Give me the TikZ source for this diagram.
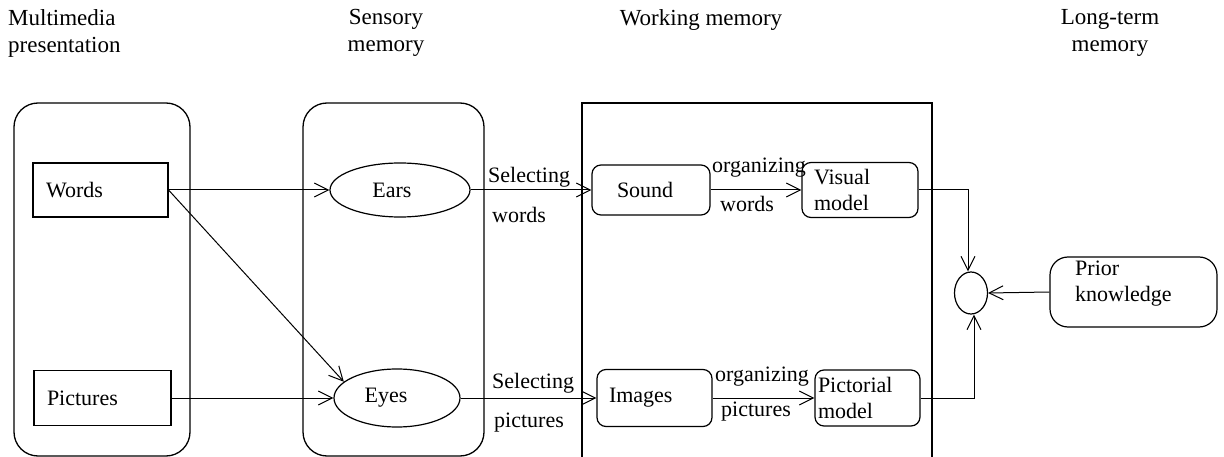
\documentclass[tikz,border=0pt]{standalone}
\usepackage{fontspec}
\setmainfont{Liberation Serif}
\usetikzlibrary{shapes.geometric,arrows.meta}
\begin{document}
\begin{tikzpicture}[x=1pt,y=-1pt,
  every node/.style={font=\fontsize{22}{26}\selectfont},
  col/.style={draw,line width=1.3pt,rounded corners=24pt},
  sqbox/.style={draw,line width=1.1pt,rectangle,inner xsep=13pt,inner ysep=0pt,align=left},
  rbox/.style={draw,line width=1.2pt,rectangle,rounded corners=9pt,inner xsep=12pt,inner ysep=0pt,align=left},
  oval/.style={draw,line width=1.2pt,ellipse,inner sep=0pt},
  lbl/.style={inner sep=0pt,anchor=west},
  ttl/.style={inner sep=0pt,anchor=north,align=center,font=\fontsize{23}{27}\selectfont},
  conn/.style={line width=1pt,-{Straight Barb[length=14pt,width=14pt,line width=1pt]}},
  plain/.style={line width=1pt}]
\useasboundingbox (0,0) rectangle (1224,457);
% titles
\node[ttl,anchor=north west,align=left] (t1) at (8,9) {Multimedia\\presentation};
\node[ttl] (t2) at (386,9) {Sensory\\memory};
\node[ttl] (t3) at (701,9) {Working memory};
\node[ttl] (t4) at (1110,9) {Long-term\\memory};
% columns
\draw[col] (14,103) rectangle (190,456);
\draw[col] (303,103) rectangle (484,456);
\draw[line width=1.5pt] (582,458) -- (582,103);
\draw[line width=1.5pt] (932,458) -- (932,103);
\draw[line width=2.6pt] (581,103) -- (933,103);
% nodes
\node[sqbox,minimum height=54pt,text width=109pt] (words) at (100.5,190) {Words};
\node[sqbox,minimum height=55pt,text width=111pt] (pict) at (102.5,398) {Pictures};
\node[oval,minimum width=140pt,minimum height=54pt] (ears) at (400,190) {\hspace*{-16pt}Ears};
\node[oval,minimum width=126pt,minimum height=58pt] (eyes) at (397,398) {\hspace*{-22pt}Eyes};
\node[rbox,minimum height=50pt,text width=94pt] (sound) at (651,190) {\hspace*{13pt}Sound};
\node[rbox,minimum height=55pt,text width=92pt] (visual) at (860,190) {Visual\\model};
\node[rbox,minimum height=57pt,text width=91pt] (images) at (654.5,398) {Images};
\node[rbox,minimum height=56pt,text width=99pt,inner xsep=3pt] (pictorial) at (867.5,398) {Pictorial\\model};
\node[oval,minimum width=33pt,minimum height=42pt] (circ) at (971,293) {};
\node[draw,line width=1.2pt,rectangle,rounded corners=18pt,minimum width=167pt,minimum height=70pt,inner sep=0pt] (prior) at (1133.5,292) {};
\node[lbl,align=left,anchor=west] (priort) at (1075,284) {Prior\\knowledge};
% connectors
\draw[conn] (words.east) -- (ears.west);
\draw[conn] (words.east) -- (eyes.163);
\draw[conn] (pict.east) -- (eyes.west);
\draw[conn] (ears.east) -- (sound.west);
\draw[conn] (eyes.east) -- (images.west);
\draw[conn] (sound.east) -- (visual.west);
\draw[conn] (images.east) -- (pictorial.west);
\draw[conn] (visual.east) -| ([xshift=-3pt]circ.north);
\draw[conn] (pictorial.east) -| ([xshift=3pt]circ.south);
\draw[conn] (prior.west) -- (circ.east);
% labels
\node[lbl] (l1) at (488,177) {Selecting};
\node[lbl] (l2) at (492,215) {words};
\node[lbl] (l3) at (492,383) {Selecting};
\node[lbl] (l4) at (494,423) {pictures};
\node[lbl] (l5) at (712,168) {organizing};
\node[lbl] (l6) at (720,204) {words};
\node[lbl] (l7) at (715,377) {organizing};
\node[lbl] (l8) at (721,412) {pictures};
\end{tikzpicture}
\end{document}
